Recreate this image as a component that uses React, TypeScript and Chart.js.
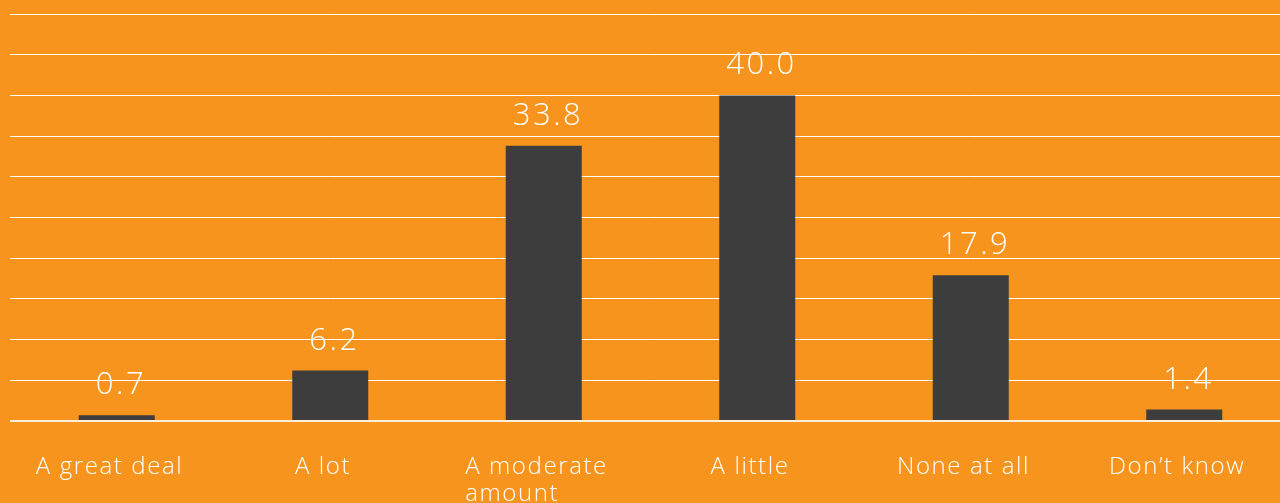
import React, { useEffect, useRef } from "react";
import { Chart, registerables } from "chart.js";

Chart.register(...registerables);

const categories: string[][] = [
  ["A great deal"],
  ["A lot"],
  ["A moderate", "amount"],
  ["A little"],
  ["None at all"],
  ["Don\u2019t know"],
];
const values: number[] = [0.7, 6.2, 33.8, 40.0, 17.9, 1.4];
const yMax = 50;
const yStep = 5;

const ORANGE = "#F7941D";
const BAR = "#3D3D3D";
const FONT = "'Open Sans', sans-serif";

const labelsPlugin = {
  id: "barLabels",
  afterDatasetsDraw(chart: any) {
    const { ctx } = chart;
    const meta = chart.getDatasetMeta(0);
    ctx.save();
    ctx.fillStyle = "#ffffff";
    // value labels above the bars
    ctx.font = `300 31px ${FONT}`;
    ctx.letterSpacing = "2.5px";
    ctx.textAlign = "left";
    ctx.textBaseline = "alphabetic";
    meta.data.forEach((bar: any, i: number) => {
      const txt = values[i].toFixed(1);
      const w = ctx.measureText(txt).width - 2.5;
      ctx.fillText(txt, bar.x + 3 - w / 2, bar.y - 21);
    });
    // category labels under the axis, lines left-aligned inside a centred block
    ctx.font = `300 24px ${FONT}`;
    ctx.letterSpacing = "1.6px";
    meta.data.forEach((bar: any, i: number) => {
      const lines = categories[i];
      const w = Math.max(...lines.map((l) => ctx.measureText(l).width - 1.6));
      const left = bar.x - 8 - w / 2;
      lines.forEach((l, j) => {
        ctx.fillText(l, left, 474 + j * 27);
      });
    });
    ctx.restore();
  },
};

export default function App() {
  const ref = useRef<HTMLCanvasElement>(null);
  useEffect(() => {
    document.body.style.margin = "0";
    document.body.style.background = ORANGE;
    const chart = new Chart(ref.current!, {
      type: "bar",
      data: {
        labels: categories.map((c) => c.join(" ")),
        datasets: [
          {
            data: values,
            backgroundColor: BAR,
            barPercentage: 0.356,
            categoryPercentage: 1,
          },
        ],
      },
      options: {
        responsive: false,
        animation: false,
        layout: { padding: { left: 10, top: 14, right: 1, bottom: 82 } },
        plugins: { legend: { display: false }, tooltip: { enabled: false } },
        scales: {
          x: { display: false },
          y: {
            min: 0,
            max: yMax,
            ticks: { display: false, stepSize: yStep },
            border: { display: false },
            grid: {
              drawTicks: false,
              color: (c: any) =>
                c.tick && c.tick.value === 0 ? "rgba(255,255,255,0.85)" : "#ffffff",
              lineWidth: (c: any) => (c.tick && c.tick.value === 0 ? 2 : 1),
            },
          },
        },
      },
      plugins: [labelsPlugin],
    });
    return () => chart.destroy();
  }, []);
  return (
    <div
      style={{
        position: "absolute",
        left: 0,
        top: 0,
        width: 1280,
        height: 503,
        overflow: "hidden",
        background: ORANGE,
      }}
    >
      <canvas ref={ref} width={1292} height={503} style={{ display: "block" }} />
    </div>
  );
}
